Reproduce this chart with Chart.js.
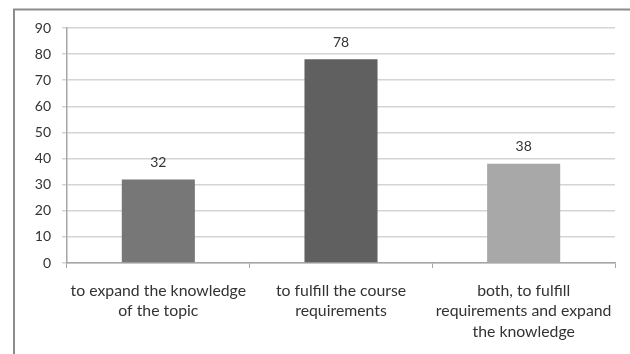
<!DOCTYPE html>
<html>
<head>
<meta charset="utf-8">
<script src="https://cdn.jsdelivr.net/npm/chart.js@4/dist/chart.umd.min.js"></script>
<style>
  html, body { margin: 0; padding: 0; background: #ffffff; }
  #wrap { position: relative; width: 630px; height: 354px; }
</style>
</head>
<body>
<div id="wrap"><canvas id="c" width="630" height="354"></canvas></div>
<script>
// Survey answers: reasons given, with counts of respondents
const categories = [
  ["to expand the knowledge", "of the topic"],
  ["to fulfill the course", "requirements"],
  ["both, to fulfill", "requirements and expand", "the knowledge"]
];
const counts = [32, 78, 38];
const barColors = ["#777777", "#606060", "#a8a8a8"];
const yTicks = [0, 10, 20, 30, 40, 50, 60, 70, 80, 90];

const FONT = "Lato, 'Open Sans', sans-serif";

// Frame drawn round the whole chart (open on the right and bottom edges)
const framePlugin = {
  id: 'frame',
  beforeDraw(chart) {
    const ctx = chart.ctx;
    ctx.save();
    ctx.strokeStyle = '#8c8c8c';
    ctx.lineWidth = 2;
    ctx.beginPath();
    ctx.moveTo(14, chart.height + 5);
    ctx.lineTo(14, 9.5);
    ctx.lineTo(chart.width + 5, 9.5);
    ctx.stroke();
    ctx.restore();
  }
};

// Value printed above each bar
const valueLabels = {
  id: 'valueLabels',
  afterDatasetsDraw(chart) {
    const ctx = chart.ctx;
    const meta = chart.getDatasetMeta(0);
    ctx.save();
    ctx.font = "14px " + FONT;
    ctx.fillStyle = '#333333';
    ctx.textAlign = 'center';
    ctx.textBaseline = 'middle';
    meta.data.forEach((bar, i) => {
      ctx.fillText(String(counts[i]), bar.x, bar.y - 17);
    });
    ctx.restore();
  }
};

new Chart(document.getElementById('c'), {
  type: 'bar',
  data: {
    labels: categories,
    datasets: [{
      data: counts,
      backgroundColor: barColors,
      borderWidth: 0,
      categoryPercentage: 1.0,
      barPercentage: 0.4
    }]
  },
  options: {
    responsive: false,
    animation: false,
    events: [],
    layout: { padding: { top: 28, right: 15, left: 0, bottom: 0 } },
    plugins: {
      legend: { display: false },
      tooltip: { enabled: false },
      title: { display: false }
    },
    scales: {
      y: {
        min: 0,
        max: 90,
        afterBuildTicks(scale) { scale.ticks = yTicks.map(v => ({ value: v })); },
        afterFit(scale) { scale.width = 67; },
        ticks: {
          color: '#333333',
          font: { family: FONT, size: 14 },
          padding: 11
        },
        grid: {
          color: '#d4d4d4',
          lineWidth: 1.5,
          tickLength: 5,
          drawTicks: true
        },
        border: { display: true, color: '#a6a6a6', width: 1.5 }
      },
      x: {
        afterFit(scale) { scale.height = 91; },
        ticks: {
          color: '#333333',
          font: { family: FONT, size: 15.8, lineHeight: 1.32 },
          padding: 12,
          maxRotation: 0,
          autoSkip: false
        },
        grid: {
          offset: true,
          drawOnChartArea: false,
          drawTicks: true,
          tickLength: 5,
          color: '#a6a6a6',
          lineWidth: 1
        },
        border: { display: true, color: '#a6a6a6', width: 1.5 }
      }
    }
  },
  plugins: [framePlugin, valueLabels]
});
</script>
</body>
</html>
